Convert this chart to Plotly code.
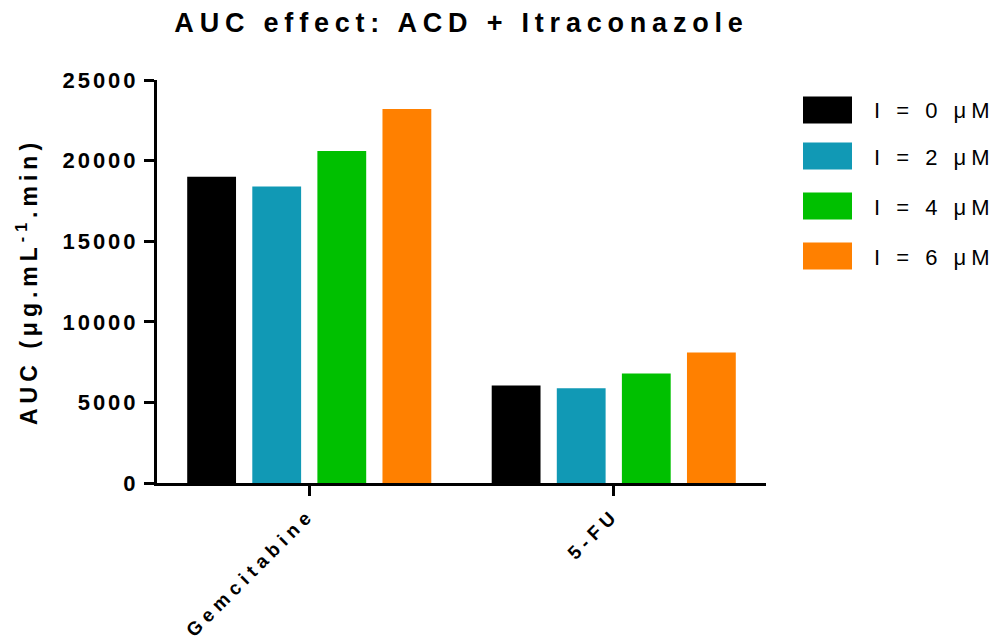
import plotly.graph_objects as go

# Data
categories = ["Gemcitabine", "5-FU"]
doses_uM = [0, 2, 4, 6]
series_names = [f"I = {d} μM" for d in doses_uM]
auc_dose0 = [19000, 6050]
auc_dose2 = [18400, 5880]
auc_dose4 = [20600, 6800]
auc_dose6 = [23200, 8100]
series_values = [auc_dose0, auc_dose2, auc_dose4, auc_dose6]
y_ticks = [0, 5000, 10000, 15000, 20000, 25000]

# Styling
colors = ["#000000", "#1199B5", "#00C000", "#FF8000"]
FONT = "Liberation Sans, Arial, sans-serif"
W, H = 994, 642
ML, MR, MT, MB = 157, 228, 80, 159
PW, PH = W - ML - MR, H - MT - MB


def px_to_paper_x(px):
    return (px - ML) / PW


def px_to_paper_y(py):
    return (H - MB - py) / PH


fig = go.Figure()
for name, vals, col in zip(series_names, series_values, colors):
    fig.add_trace(go.Bar(name=name, x=categories, y=vals, marker_color=col,
                         marker_line_width=0, showlegend=False))

# Legend drawn as large swatches with labels
legend_rows = [110, 156, 206, 256]
for name, col, cy in zip(series_names, colors, legend_rows):
    fig.add_shape(type="rect", xref="paper", yref="paper",
                  x0=px_to_paper_x(803), x1=px_to_paper_x(852),
                  y0=px_to_paper_y(cy + 13.5), y1=px_to_paper_y(cy - 13.5),
                  fillcolor=col, line_width=0)
    fig.add_annotation(text=name, xref="paper", yref="paper",
                       x=px_to_paper_x(872), y=px_to_paper_y(cy + 1),
                       xanchor="left", yanchor="middle", align="left",
                       showarrow=False,
                       font=dict(family=FONT, size=22, color="#000000"))

fig.update_layout(
    width=W, height=H,
    margin=dict(l=ML, r=MR, t=MT, b=MB, pad=0),
    paper_bgcolor="white", plot_bgcolor="white",
    barmode="group", bargap=0.145, bargroupgap=0.25,
    title=dict(text="<b>AUC effect: ACD + Itraconazole</b>",
               x=0.5, xref="paper", xanchor="center",
               y=1 - 23 / H, yref="container", yanchor="middle",
               font=dict(family=FONT, size=27, color="#000000")),
    font=dict(family=FONT, color="#000000"),
)

fig.update_xaxes(
    type="category", range=[-0.5, 1.5], automargin=False,
    showline=True, linecolor="#000000", linewidth=3,
    ticks="outside", ticklen=10, tickwidth=3, tickcolor="#000000",
    tickangle=-45, showgrid=False, zeroline=False,
    tickfont=dict(family=FONT, size=19, color="#000000", weight="bold"),
)

fig.update_yaxes(
    range=[0, 25000], automargin=False,
    tickvals=y_ticks, ticktext=[str(v) for v in y_ticks],
    showline=True, linecolor="#000000", linewidth=3,
    ticks="outside", ticklen=10, tickwidth=3, tickcolor="#000000",
    showgrid=False, zeroline=False, ticklabelstandoff=1,
    tickfont=dict(family=FONT, size=22, color="#000000", weight="bold"),
    title=dict(text="<b>AUC (μg.mL<sup>-1</sup>.min)</b>", standoff=34,
               font=dict(family=FONT, size=23, color="#000000")),
)

spacing_css = (
    "<style>"
    ".gtitle{letter-spacing:5.8px;}"
    ".ytitle{letter-spacing:5px;}"
    ".xtick text{letter-spacing:5.3px;}"
    ".ytick text{letter-spacing:3px;}"
    ".annotation-text{letter-spacing:5px;}"
    "</style>"
)
post = "document.head.insertAdjacentHTML('beforeend', '" + spacing_css + "');"

fig.write_html("out.html", post_script=post)
